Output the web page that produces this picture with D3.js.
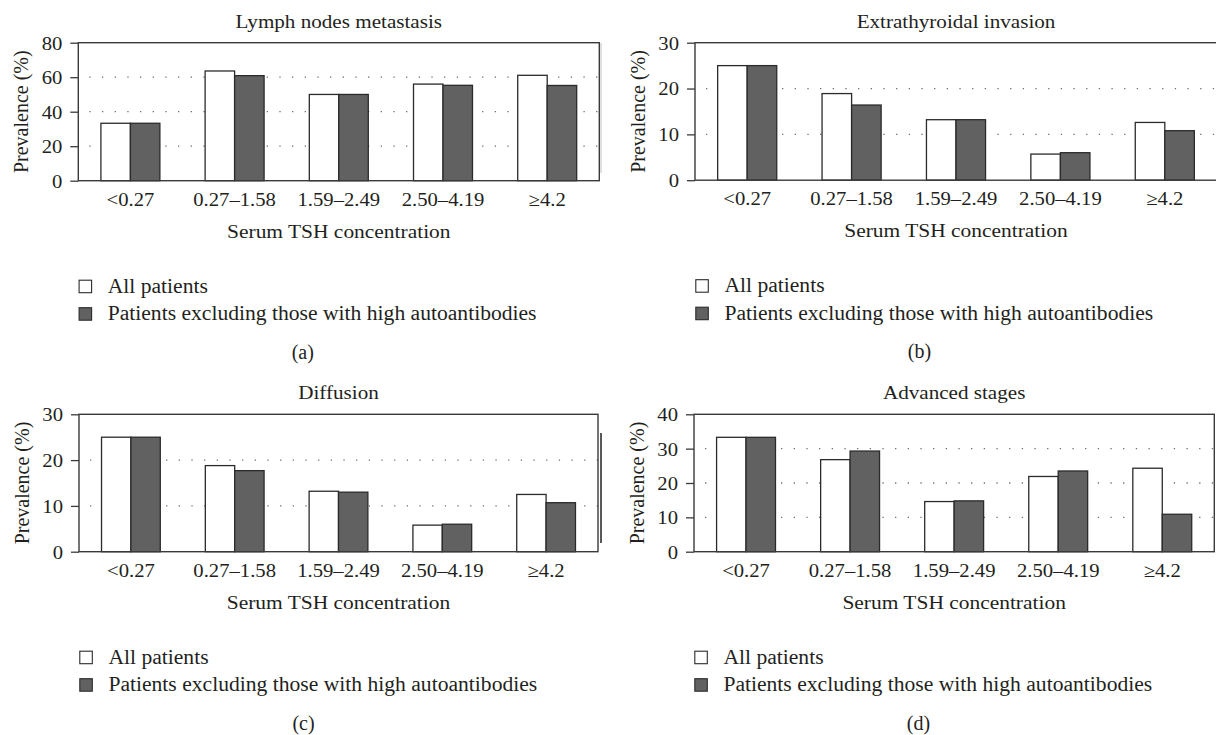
<!DOCTYPE html>
<html>
<head>
<meta charset="utf-8">
<script src="https://cdn.jsdelivr.net/npm/d3@7"></script>
<style>
  body { margin: 0; background: #fff; }
  text { font-family: "Liberation Serif", "Times New Roman", serif; fill: #231f20; }
</style>
</head>
<body>
<svg id="fig" width="1216" height="735"></svg>
<script>
// categories and series
const categories = ["<0.27", "0.27\u20131.58", "1.59\u20132.49", "2.50\u20134.19", "\u22654.2"];
const seriesNames = ["All patients", "Patients excluding those with high autoantibodies"];
const seriesFill = ["#ffffff", "#616161"];

// values (%)
const lymphAll = [33.3, 63.6, 50.0, 56.0, 61.1];
const lymphExcl = [33.3, 60.9, 50.0, 55.3, 55.2];
const extraAll = [25.0, 18.9, 13.2, 5.7, 12.6];
const extraExcl = [25.0, 16.4, 13.2, 6.0, 10.8];
const diffAll = [25.0, 18.8, 13.2, 5.8, 12.5];
const diffExcl = [25.0, 17.7, 13.0, 6.0, 10.7];
const advAll = [33.3, 26.8, 14.6, 21.9, 24.3];
const advExcl = [33.3, 29.3, 14.8, 23.5, 10.9];

const ticksA = [0, 20, 40, 60, 80];
const ticksB = [0, 10, 20, 30];
const ticksC = [0, 10, 20, 30];
const ticksD = [0, 10, 20, 30, 40];

const SX = 1.1; // the chart images are a bit wider than tall
const FS = "18.8px";

const svg = d3.select("#fig");

const panels = [
  { title: "Lymph nodes metastasis", tag: "(a)", all: lymphAll, excl: lymphExcl, ticks: ticksA,
    x0: 78.3, x1: 599.3, y0: 42.7, y1: 180.7 },
  { title: "Extrathyroidal invasion", tag: "(b)", all: extraAll, excl: extraExcl, ticks: ticksB,
    x0: 695, x1: 1217, y0: 42.7, y1: 180.2 },
  { title: "Diffusion", tag: "(c)", all: diffAll, excl: diffExcl, ticks: ticksC,
    x0: 79, x1: 598, y0: 414.3, y1: 551.7 },
  { title: "Advanced stages", tag: "(d)", all: advAll, excl: advExcl, ticks: ticksD,
    x0: 694, x1: 1214.3, y0: 414.3, y1: 551.7 }
];

panels.forEach(drawPanel);

// stray scan edge lines in the source figure
svg.append("line").attr("x1", 601).attr("x2", 601).attr("y1", 43).attr("y2", 173)
  .attr("stroke", "#d4d4d4").attr("stroke-width", 1.5);
svg.append("line").attr("x1", 601).attr("x2", 601).attr("y1", 433).attr("y2", 543)
  .attr("stroke", "#222").attr("stroke-width", 1.5);

function drawPanel(p) {
  const g = svg.append("g");
  const rows = categories.map((c, i) => ({ cat: c, vals: [p.all[i], p.excl[i]] }));

  const x = d3.scaleBand().domain(categories).range([p.x0, p.x1])
    .paddingInner(0.434).paddingOuter(0.217);
  const xs = d3.scaleBand().domain([0, 1]).range([0, x.bandwidth()]);
  const yMax = p.ticks[p.ticks.length - 1];
  const y = d3.scaleLinear().domain([0, yMax]).range([p.y1, p.y0]);

  // dotted grid
  g.selectAll(".grid")
    .data(p.ticks.filter((t) => t > 0 && t < yMax))
    .enter()
    .append("line")
    .attr("x1", p.x0 + 11)
    .attr("x2", p.x1)
    .attr("y1", (d) => y(d))
    .attr("y2", (d) => y(d))
    .attr("stroke", "#6f6f6f")
    .attr("stroke-width", 1.3)
    .attr("stroke-dasharray", "1.3,11.37");

  // bars
  const grp = g.selectAll(".grp").data(rows).enter().append("g")
    .attr("transform", (d) => `translate(${x(d.cat)},0)`);
  grp.selectAll("rect")
    .data((d) => d.vals)
    .enter()
    .append("rect")
    .attr("x", (d, i) => xs(i))
    .attr("y", (d) => y(d))
    .attr("width", xs.bandwidth())
    .attr("height", (d) => y(0) - y(d))
    .attr("fill", (d, i) => seriesFill[i])
    .attr("stroke", "#2b2b2b")
    .attr("stroke-width", 1.3);

  // y axis
  const yAxis = g.append("g")
    .attr("transform", `translate(${p.x0},0)`)
    .call(d3.axisLeft(y).tickValues(p.ticks).tickSize(8).tickSizeOuter(0));
  yAxis.select(".domain").remove();
  yAxis.selectAll(".tick line").attr("stroke", "#3a3a3a").attr("stroke-width", 1.3);
  yAxis.selectAll(".tick text")
    .attr("x", 0).attr("dy", "0.34em")
    .attr("transform", `translate(-16,0) scale(${SX},1)`)
    .style("font-size", FS)
    .attr("fill", "#231f20");

  // x axis labels
  const xAxis = g.append("g")
    .attr("transform", `translate(0,${p.y1})`)
    .call(d3.axisBottom(x).tickSize(0));
  xAxis.select(".domain").remove();
  xAxis.selectAll(".tick text")
    .attr("y", 0).attr("dy", 0)
    .attr("transform", `translate(0,25) scale(${SX},1)`)
    .style("font-size", FS)
    .attr("fill", "#231f20");

  // frame
  g.append("rect")
    .attr("x", p.x0).attr("y", p.y0)
    .attr("width", p.x1 - p.x0).attr("height", p.y1 - p.y0)
    .attr("fill", "none")
    .attr("stroke", "#3a3a3a")
    .attr("stroke-width", 1.4);

  const cx = (p.x0 + p.x1) / 2;

  // title
  g.append("text")
    .attr("transform", `translate(${cx},${p.y0 - 15}) scale(${SX},1)`)
    .attr("text-anchor", "middle")
    .style("font-size", "19.2px")
    .text(p.title);

  // axis titles
  g.append("text")
    .attr("transform", `translate(${cx},${p.y1 + 57}) scale(${SX},1)`)
    .attr("text-anchor", "middle")
    .style("font-size", "19.5px")
    .text("Serum TSH concentration");

  g.append("text")
    .attr("transform", `translate(${p.x0 - 57},${(p.y0 + p.y1) / 2}) rotate(-90)`)
    .attr("text-anchor", "middle")
    .attr("dy", "0.35em")
    .style("font-size", "20px")
    .text("Prevalence (%)");

  // legend
  const leg = g.selectAll(".leg").data(seriesNames).enter().append("g")
    .attr("transform", (d, i) => `translate(${p.x0},${p.y1 + 112 + i * 27.5})`);
  leg.append("rect")
    .attr("x", 0.8).attr("y", -12.5)
    .attr("width", 12.5).attr("height", 12.5)
    .attr("fill", (d, i) => seriesFill[i])
    .attr("stroke", "#2b2b2b")
    .attr("stroke-width", 1.1);
  leg.append("text")
    .attr("x", 29.4)
    .attr("y", 0)
    .style("font-size", "21.6px")
    .text((d) => d);

  // panel tag
  g.append("text")
    .attr("x", p.x0 + 224.5)
    .attr("y", p.y1 + 178)
    .attr("text-anchor", "middle")
    .style("font-size", "20px")
    .text(p.tag);
}
</script>
</body>
</html>
